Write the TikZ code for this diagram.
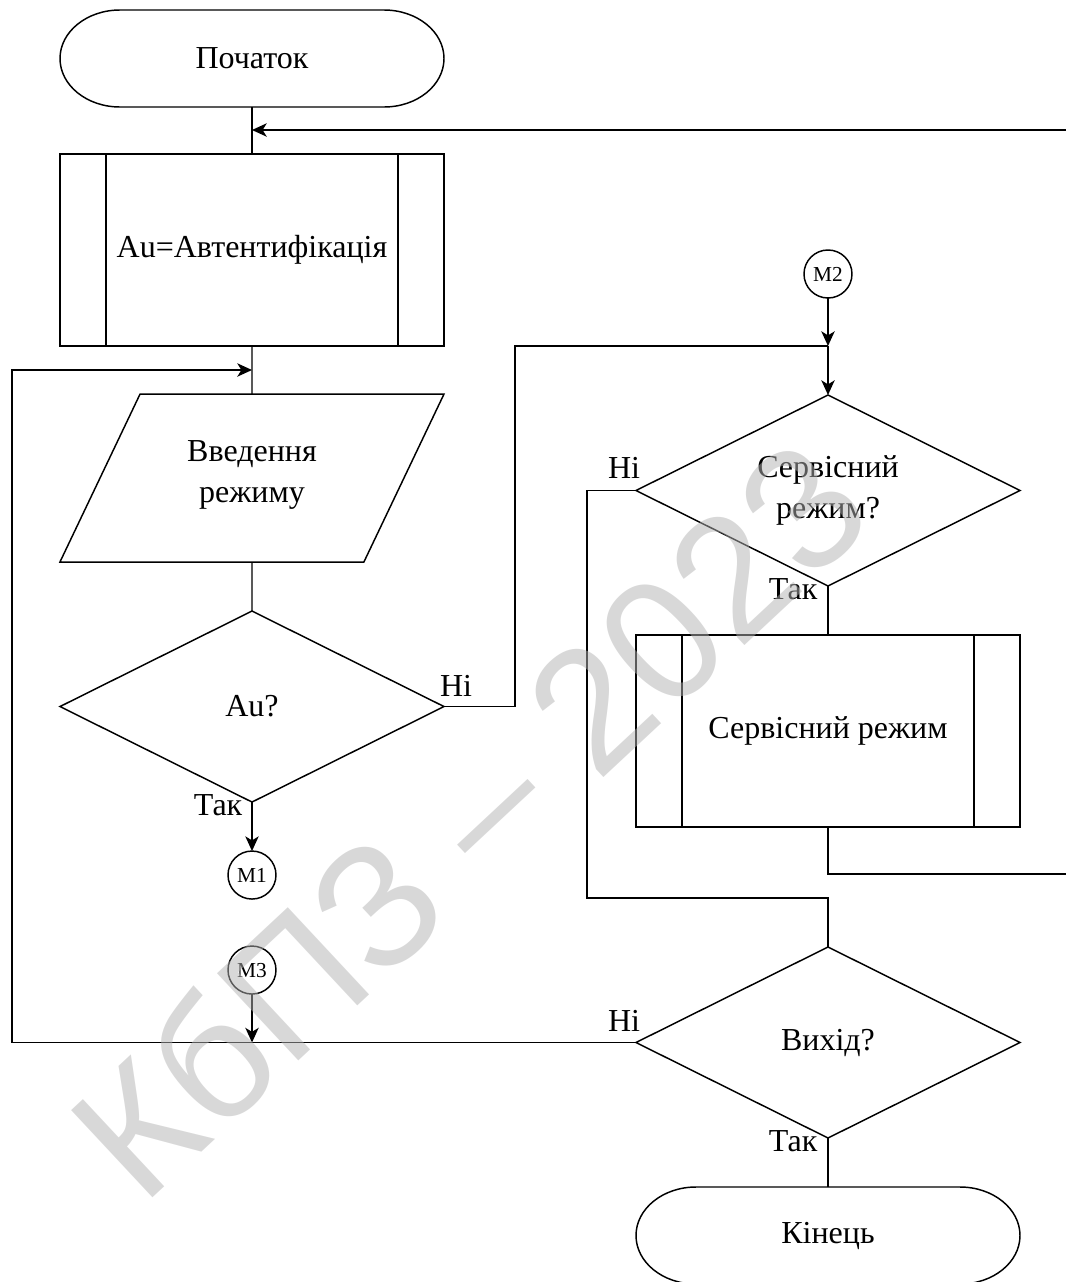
\documentclass[tikz,border=0pt]{standalone}
\usepackage{fontspec}
\setmainfont{Liberation Serif}
\newfontfamily\wmfont{Liberation Sans}
\usetikzlibrary{shapes,shapes.geometric,positioning,arrows.meta,calc}
\definecolor{wmgray}{gray}{0.7}

\begin{document}
\begin{tikzpicture}[x=0.75pt, y=-0.75pt, line width=1.1pt, font=\fontsize{24}{31}\selectfont]

    \tikzstyle{every node}=[outer sep=0pt];
    \tikzstyle{term}=[rectangle, minimum width=288pt, minimum height=72.75pt,
      append after command={\pgfextra{\pgfinterruptpath
        \draw ([xshift=45pt]\tikzlastnode.north west) -- ([xshift=-45pt]\tikzlastnode.north east)
          arc[start angle=90, end angle=-90, x radius=45pt, y radius=36.375pt]
          -- ([xshift=45pt]\tikzlastnode.south west)
          arc[start angle=270, end angle=90, x radius=45pt, y radius=36.375pt];
        \endpgfinterruptpath}}];
    \tikzstyle{proc}=[draw, rectangle, minimum width=288pt, minimum height=144pt,
      path picture={\draw ([xshift=34.5pt]path picture bounding box.north west) -- ([xshift=34.5pt]path picture bounding box.south west)
        ([xshift=-34.5pt]path picture bounding box.north east) -- ([xshift=-34.5pt]path picture bounding box.south east);}];
    \tikzstyle{dec}=[draw, diamond, aspect=2, minimum width=288pt, minimum height=143.25pt, inner sep=0pt, align=center];
    \tikzstyle{io}=[draw, trapezium, trapezium left angle=64.5, trapezium right angle=115.5, inner sep=0pt,
      text width=167.86pt, text height=50.45pt, text depth=75.55pt, align=center];
    \tikzstyle{conn}=[draw, circle, minimum size=36pt, inner sep=0pt, font=\fontsize{16}{18}\selectfont];
    \tikzstyle{lbl}=[inner sep=0pt];

    \useasboundingbox (0,0) rectangle (1065,1282);

    \begin{scope}[>={Stealth[length=11pt,width=10pt,inset=3pt]}]
      % left column
      \node (start) at (252,58.5) [term]{Початок};
      \node (auth) [below=35.25pt of start, proc]{Au=Автентифікація};
      \node (modeInput) [below=36pt of auth, io]{Введення\\режиму};
      \node (authCheck) [below=36.75pt of modeInput, dec]{Au?};
      \node (m1) [below=36.75pt of authCheck, conn]{M1};
      \node (m3) [below=35.25pt of m1, conn]{M3};

      % right column
      \node (m2) at (828,274) [conn]{M2};
      \node (serviceCheck) [below=72.75pt of m2, dec]{Сервісний\\режим?};
      \node (serviceMode) [below=36.75pt of serviceCheck, proc]{Сервісний режим};
      \node (exitCheck) [below=90pt of serviceMode, dec]{Вихід?};
      \node (finish) [below=36.75pt of exitCheck, term]{Кінець};

      \node (authNo) at (456,686) [lbl]{Ні};
      \node (authYes) at (218,805) [lbl]{Так};
      \node (serviceNo) at (624,468) [lbl]{Ні};
      \node (serviceYes) at (793,589) [lbl]{Так};
      \node (exitNo) at (624,1021) [lbl]{Ні};
      \node (exitYes) at (793,1141) [lbl]{Так};

      \coordinate (topIn) at (252,130);
      \coordinate (loopIn) at (252,370);
      \coordinate (serviceIn) at (828,346);
      \coordinate (exitIn) at (828,898);
      \coordinate (rightTop) at (1068,130);
      \coordinate (leftSide) at (12,370);

      \draw (start) -- (auth);
      \draw (auth) -- (modeInput);
      \draw (modeInput) -- (authCheck);
      \draw [->] (authCheck) -- (m1);
      \draw [->] (m3) -- (m3 |- exitCheck.west);
      \draw [->] (exitCheck.west) -- (exitCheck.west -| leftSide) -- (leftSide) -- (loopIn);

      \draw (authCheck.east) -- ++(71,0) |- (serviceIn);
      \draw [->] (m2) -- (serviceIn);
      \draw [->] (serviceIn) -- (serviceCheck);
      \draw (serviceCheck) -- (serviceMode);
      \draw (serviceCheck.west) -- ++(-49,0) |- (exitIn) -- (exitCheck);
      \draw [->] (serviceMode.south) -- ++(0,47) -| (rightTop) -- (topIn);
      \draw (exitCheck) -- (finish);

    \end{scope}

    % watermark
    \node (watermark) at (468,818) [rotate=43, text=wmgray, text opacity=0.5, font=\wmfont\fontsize{130}{130}\selectfont]{КбПЗ – 2023};
\end{tikzpicture}
\end{document}
